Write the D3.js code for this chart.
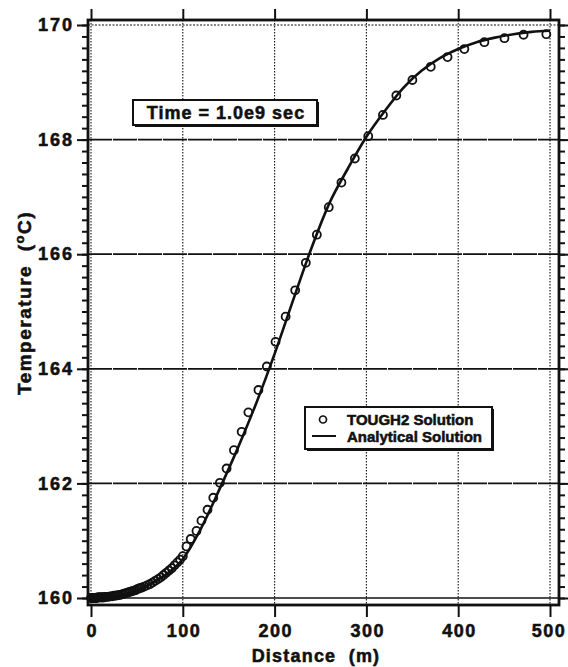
<!DOCTYPE html>
<html><head><meta charset="utf-8">
<script src="https://cdn.jsdelivr.net/npm/d3@7"></script>
<style>
html,body{margin:0;padding:0;background:#fff;}
svg text{font-family:"Liberation Sans",Arial,Helvetica,sans-serif;font-weight:bold;fill:#111;stroke:#111;stroke-width:0.55px;}
</style></head>
<body><svg id="c" width="568" height="667"></svg>
<script>
// TOUGH2 numerical solution (distance m, temperature °C)
const toughX = [0,1,2,3,4,5,6,7,8,9,10,11,12,13,14,15,17,19,21,23,25,27,29,31,33,35,37,39,41,43,45,47,49,51,53,55,58,61,64,67,70,73,76,79,82,85,88,91,94,97,100,104,108.6,114.9,120.3,126.9,133.2,140.4,147.7,155.7,164.1,171.4,182.4,191.5,201,212,222.4,234,246,259,272.8,287.4,302,318,332.6,350.1,370.1,388.4,406.7,428.5,450.4,471.2,496];
const toughT = [160.0,160.0,160.0,160.0,160.0,160.0,160.0,160.01,160.01,160.01,160.01,160.01,160.01,160.01,160.01,160.02,160.02,160.02,160.03,160.03,160.04,160.04,160.05,160.05,160.06,160.07,160.08,160.09,160.1,160.11,160.12,160.13,160.14,160.16,160.17,160.18,160.2,160.22,160.24,160.27,160.3,160.33,160.36,160.4,160.44,160.48,160.52,160.57,160.62,160.67,160.73,160.9,161.03,161.17,161.35,161.54,161.75,162.01,162.26,162.58,162.9,163.24,163.63,164.04,164.47,164.91,165.37,165.85,166.34,166.82,167.25,167.67,168.06,168.43,168.77,169.04,169.27,169.44,169.58,169.70,169.77,169.83,169.84];
// Analytical solution
const anaX = [0,20,40,60,80,100,120,140,160,180,200,220,240,260,280,300,320,340,360,380,400,420,440,460,480,500];
const anaT = [160.0,160.02,160.08,160.2,160.39,160.68,161.22,161.9,162.62,163.4,164.26,165.19,166.1,166.9,167.5,168.05,168.5,168.9,169.2,169.42,169.58,169.7,169.78,169.84,169.88,169.9];
const xTicks = [0,100,200,300,400,500];
const yTicks = [160,162,164,166,168,170];
const titleText = "Time = 1.0e9 sec";
const legendLabels = ["TOUGH2 Solution","Analytical Solution"];

const svg = d3.select("#c");
const x = d3.scaleLinear().domain([0,500]).range([91,550]);
const y = d3.scaleLinear().domain([160,170]).range([598,25]);
const frame = {l:88, r:559, t:20, b:605};
const ink = "#111";

// grid: vertical dotted
svg.append("g").selectAll("line").data(xTicks).join("line")
  .attr("x1",d=>x(d)).attr("x2",d=>x(d)).attr("y1",frame.t).attr("y2",frame.b)
  .attr("stroke",ink).attr("stroke-width",1.1).attr("stroke-dasharray","1.5,1.5");
// grid: horizontal
svg.append("g").selectAll("line").data(yTicks).join("line")
  .attr("x1",frame.l).attr("x2",frame.r).attr("y1",d=>y(d)).attr("y2",d=>y(d))
  .attr("stroke",ink)
  .attr("stroke-width",d=>d===170?1.1:1.7)
  .attr("stroke-dasharray",d=>d===170?"2,1.5":(d===160?null:"24,1"));

// frame
svg.append("rect").attr("x",frame.l).attr("y",frame.t)
  .attr("width",frame.r-frame.l).attr("height",frame.b-frame.t)
  .attr("fill","none").attr("stroke",ink).attr("stroke-width",2.8);

// axes
const yMinor = d3.range(160,170.001,0.2);
const leftAxis = d3.axisLeft(y).tickValues(yMinor).tickSize(6).tickFormat("");
const gl = svg.append("g").attr("transform",`translate(${frame.l},0)`).call(leftAxis);
const gl2 = svg.append("g").attr("transform",`translate(${frame.l},0)`)
  .call(d3.axisLeft(y).tickValues(yTicks).tickSize(11).tickPadding(5).tickFormat(d3.format("d")));
const gr = svg.append("g").attr("transform",`translate(${frame.r},0)`)
  .call(d3.axisRight(y).tickValues(yMinor).tickSize(6).tickFormat(""));
const gr2 = svg.append("g").attr("transform",`translate(${frame.r},0)`)
  .call(d3.axisRight(y).tickValues(yTicks).tickSize(10).tickFormat(""));
const gb = svg.append("g").attr("transform",`translate(0,${frame.b})`)
  .call(d3.axisBottom(x).tickValues(xTicks).tickSize(12).tickPadding(7).tickFormat(d3.format("d")));
const gt = svg.append("g").attr("transform",`translate(0,${frame.t})`)
  .call(d3.axisTop(x).tickValues(xTicks).tickSize(11).tickFormat(""));
[gl,gl2,gr,gr2,gb,gt].forEach(g=>{
  g.select(".domain").remove();
  g.selectAll(".tick line").attr("stroke",ink).attr("stroke-width",2);
});
gl2.selectAll(".tick text").attr("font-size",18).attr("letter-spacing","2px").attr("dx","2px").attr("fill",ink);
gb.selectAll(".tick text").attr("font-size",18).attr("letter-spacing","1.5px").attr("dx",d=>d===500?"-1.5px":"0.75px").attr("fill",ink);

// analytical line
const line = d3.line().curve(d3.curveMonotoneX).x(d=>x(d[0])).y(d=>y(d[1]));
svg.append("path").datum(anaX.map((v,i)=>[v,anaT[i]]))
  .attr("d",line).attr("fill","none").attr("stroke",ink).attr("stroke-width",2.6);

// TOUGH2 circles
svg.append("g").selectAll("circle").data(toughX.map((v,i)=>[v,toughT[i]])).join("circle")
  .attr("cx",d=>x(d[0])).attr("cy",d=>y(d[1])).attr("r",4)
  .attr("fill","none").attr("stroke",ink).attr("stroke-width",1.8);

// title box
const tb = {x:133,y:100,w:184,h:25};
svg.append("rect").attr("x",tb.x+2).attr("y",tb.y+2).attr("width",tb.w).attr("height",tb.h).attr("fill",ink);
svg.append("rect").attr("x",tb.x).attr("y",tb.y).attr("width",tb.w).attr("height",tb.h)
  .attr("fill","#fff").attr("stroke",ink).attr("stroke-width",2);
svg.append("text").attr("x",tb.x+tb.w/2+1).attr("y",tb.y+18.5).attr("text-anchor","middle")
  .attr("font-size",18).attr("letter-spacing","1px").text(titleText);

// legend
const lg = {x:305,y:407,w:187,h:42};
svg.append("rect").attr("x",lg.x+2).attr("y",lg.y+2).attr("width",lg.w).attr("height",lg.h).attr("fill",ink);
svg.append("rect").attr("x",lg.x).attr("y",lg.y).attr("width",lg.w).attr("height",lg.h)
  .attr("fill","#fff").attr("stroke",ink).attr("stroke-width",2);
svg.append("circle").attr("cx",323).attr("cy",419.5).attr("r",3.5)
  .attr("fill","none").attr("stroke",ink).attr("stroke-width",1.7);
svg.append("line").attr("x1",312).attr("x2",336).attr("y1",436).attr("y2",436)
  .attr("stroke",ink).attr("stroke-width",2);
svg.append("text").attr("x",347).attr("y",425).attr("font-size",15).attr("stroke-width",0.4).text(legendLabels[0]);
svg.append("text").attr("x",347).attr("y",442).attr("font-size",15).attr("stroke-width",0.4).text(legendLabels[1]);

// axis titles
svg.append("text").attr("x",316).attr("y",662).attr("text-anchor","middle")
  .attr("font-size",18).attr("letter-spacing","1.2px").attr("xml:space","preserve").text("Distance  (m)");
const yt = svg.append("text").attr("transform","translate(31,303) rotate(-90)")
  .attr("text-anchor","middle").attr("font-size",19).attr("letter-spacing","1.5px").attr("xml:space","preserve");
yt.append("tspan").text("Temperature  (");
yt.append("tspan").attr("font-size",13).attr("dy",-7).text("o");
yt.append("tspan").attr("dy",7).text("C)");
</script></body></html>
